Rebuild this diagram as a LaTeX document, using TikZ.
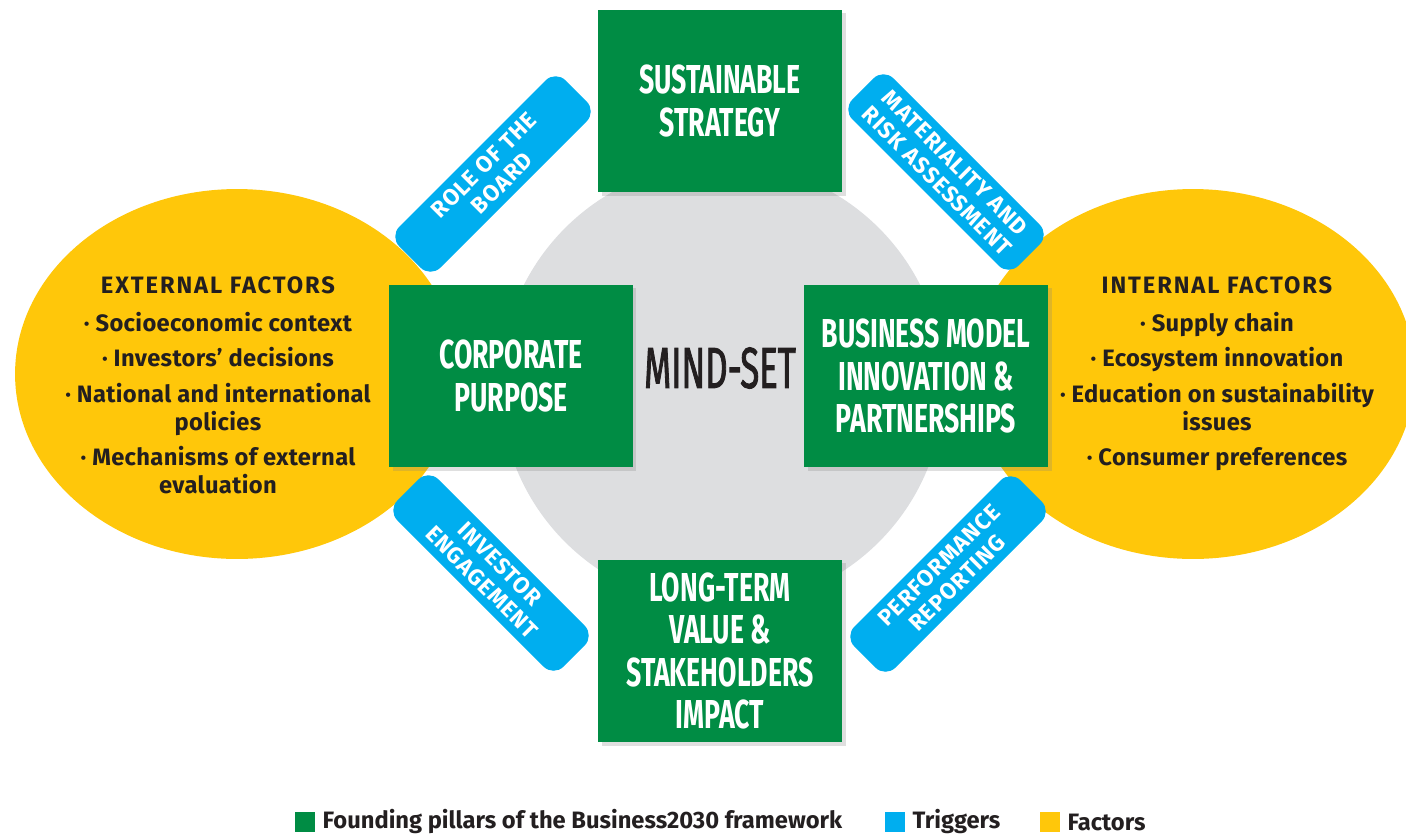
\documentclass[tikz,border=0pt]{standalone}
\usepackage{fontspec}
\setmainfont{Fira Sans}
\newfontfamily\pillarfont[FakeStretch=0.66]{Fira Sans}
\newfontfamily\mindfont[FakeStretch=0.6, FakeBold=1.4]{Fira Sans}
\newfontfamily\triggerfont[LetterSpace=4]{Fira Sans}
\newfontfamily\factorfont[LetterSpace=1.5]{Fira Sans}
\usetikzlibrary{positioning}
\usetikzlibrary{shapes.geometric}
\usetikzlibrary{shadows}

\definecolor{pillargreen}{RGB}{0,140,68}
\definecolor{triggerblue}{RGB}{0,174,239}
\definecolor{factoryellow}{RGB}{255,199,10}
\definecolor{mindgray}{RGB}{221,222,224}
\definecolor{inkdark}{RGB}{35,31,32}

\newcommand{\factorhead}[1]{{\addfontfeature{LetterSpace=8}#1}}

\tikzset{
	pillar/.style={rectangle, fill=pillargreen, minimum width=4.88cm, minimum height=3.66cm, text=white, align=center, font=\pillarfont\bfseries\fontsize{23}{24}\selectfont, drop shadow={shadow xshift=2pt, shadow yshift=-2pt, opacity=0.25}},
	trigger/.style={rectangle, rounded corners=8pt, fill=triggerblue, minimum width=4.7cm, minimum height=1.16cm, text=white, align=center, inner sep=0pt, font=\triggerfont\bfseries\fontsize{13}{14.5}\selectfont},
	factor/.style={ellipse, fill=factoryellow, minimum width=8.88cm, minimum height=7.4cm},
	factortext/.style={align=center, inner sep=0pt, anchor=north, text=inkdark, font=\factorfont\bfseries\fontsize{13.5}{16}\selectfont},
	key/.style={rectangle, minimum size=0.4cm, inner sep=0pt},
	keytext/.style={inner sep=0pt, text=inkdark, font=\bfseries\fontsize{13.5}{13.5}\selectfont}
}

\begin{document}
\begin{tikzpicture}[x=0.02cm, y=-0.02cm]
	\useasboundingbox (0,0) rectangle (1406,835);

	% Factors
	\node [factor] (extern) at (237,374) {};
	\node [factor] (intern) at (1193,374) {};

	% Mind-set disc
	\node [circle, fill=mindgray, minimum size=8.88cm] (mind) at (722,385) {};

	% Triggers
	\node [trigger, rotate=45] (board) at (493,174) {ROLE OF THE\\BOARD};
	\node [trigger, rotate=-45] (risk) at (946,172) {MATERIALITY AND\\RISK ASSESSMENT};
	\node [trigger, rotate=-45] (investor) at (491,573) {INVESTOR\\ENGAGEMENT};
	\node [trigger, rotate=45] (reporting) at (948,574) {PERFORMANCE\\REPORTING};

	% Founding pillars
	\node [pillar] (strategy) at (720,101) {SUSTAINABLE\\STRATEGY};
	\node [pillar] (purpose) at (511,376) {CORPORATE\\PURPOSE};
	\node [pillar] (model) at (926,376) {BUSINESS MODEL\\INNOVATION \&\\PARTNERSHIPS};
	\node [pillar] (value) at (720,651) {LONG-TERM\\VALUE \&\\STAKEHOLDERS\\IMPACT};
	\node [text=inkdark, font=\mindfont\fontsize{33}{33}\selectfont] (mindset) at (720,368) {MIND-SET};

	% Factor lists
	\node [factortext] (externlist) at (218,276) {\factorhead{EXTERNAL FACTORS}\\[6pt]
		· Socioeconomic context\\[4pt]
		· Investors’ decisions\\[4pt]
		· National and international\\policies\\[4pt]
		· Mechanisms of external\\evaluation};
	\node [factortext] (internlist) at (1217,276) {\factorhead{INTERNAL FACTORS}\\[6pt]
		· Supply chain\\[4pt]
		· Ecosystem innovation\\[4pt]
		· Education on sustainability\\issues\\[4pt]
		· Consumer preferences};

	% Legend
	\node [key, fill=pillargreen] (keypillar) at (305,822) {};
	\node [keytext, right=0.14cm of keypillar] (keypillartext) {Founding pillars of the Business2030 framework};
	\node [key, fill=triggerblue] (keytrigger) at (895,822) {};
	\node [keytext, right=0.14cm of keytrigger] (keytriggertext) {Triggers};
	\node [key, fill=factoryellow] (keyfactor) at (1050,822) {};
	\node [keytext, right=0.14cm of keyfactor] (keyfactortext) {Factors};
\end{tikzpicture}
\end{document}
